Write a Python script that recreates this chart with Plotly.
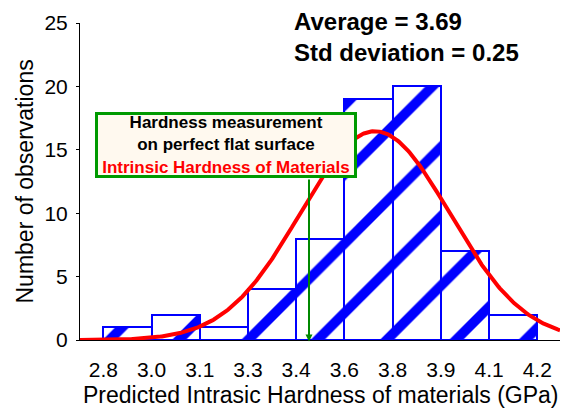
import numpy as np
import plotly.graph_objects as go

# ---------------- data ----------------
bin_edges = [2.800, 2.958, 3.116, 3.274, 3.432, 3.590, 3.748, 3.906, 4.064, 4.222]
counts = [1, 2, 1, 4, 8, 19, 20, 7, 2]
tick_labels = ["2.8", "3.0", "3.1", "3.3", "3.4", "3.6", "3.8", "3.9", "4.1", "4.2"]
y_ticks = [0, 5, 10, 15, 20, 25]
mean_val = 3.69
std_val = 0.25
fit_sigma = 0.245
measure_x = 3.474          # hardness measured on perfect flat surface
stats_lines = ["Average = 3.69", "Std deviation = 0.25"]
box_lines = ["Hardness measurement", "on perfect flat surface", "Intrinsic Hardness of Materials"]
x_title = "Predicted Intrasic Hardness of materials (GPa)"
y_title = "Number of observations"
x_range = [2.7236, 4.2965]
y_range = [0, 25]

# ---------------- derived ----------------
centers = [(a + b) / 2 for a, b in zip(bin_edges[:-1], bin_edges[1:])]
widths = [b - a for a, b in zip(bin_edges[:-1], bin_edges[1:])]
bw = float(np.mean(widths))
amp = sum(counts) * bw / (fit_sigma * np.sqrt(2 * np.pi))
xc = np.linspace(x_range[0], x_range[1], 400)
yc = amp * np.exp(-0.5 * ((xc - mean_val) / fit_sigma) ** 2)

FONT = "Arial, 'Liberation Sans', Helvetica, sans-serif"

fig = go.Figure()
fig.add_trace(go.Bar(
    x=centers, y=counts, width=widths,
    marker=dict(color="white",
                line=dict(color="#0000FF", width=2),
                pattern=dict(shape="/", fgcolor="#0000FF", bgcolor="white",
                             size=49, solidity=0.2, fillmode="replace")),
    showlegend=False, hoverinfo="skip"))
fig.add_trace(go.Scatter(
    x=xc, y=yc, mode="lines", line=dict(color="#FF0000", width=4),
    showlegend=False, hoverinfo="skip", cliponaxis=False))

W, H = 563, 410
ml, mr, mt, mb = 80, 3, 23, 70
pw, ph = W - ml - mr, H - mt - mb

def px2paper(px, py):
    return (px - ml) / pw, (H - mb - py) / ph

annotations = []
# stats text
for line, py in zip(stats_lines, [21, 52]):
    ax_, ay_ = px2paper(292, py)
    annotations.append(dict(text=line, xref="paper", yref="paper", x=ax_, y=ay_,
                            xanchor="left", yanchor="middle", showarrow=False,
                            font=dict(family=FONT, size=24, color="black", weight="bold")))
# box
bx, by = px2paper(226, 145)
box_text = (f"<b>{box_lines[0]}</b><br><b>{box_lines[1]}</b><br>"
            f"<b><span style='color:#FF0000'>{box_lines[2]}</span></b>")
annotations.append(dict(text=box_text, xref="paper", yref="paper", x=bx, y=by,
                        xanchor="center", yanchor="middle", showarrow=False,
                        font=dict(family=FONT, size=17, color="black"),
                        bgcolor="#FFF9EF", bordercolor="#009A00", borderwidth=3,
                        borderpad=0, width=256, height=60, align="center"))
# green arrow
box_bottom_y = (H - mb - 178) / ph * (y_range[1] - y_range[0])
annotations.append(dict(text="", x=measure_x, y=-0.12, xref="x", yref="y",
                        ax=measure_x, ay=box_bottom_y, axref="x", ayref="y",
                        showarrow=True, arrowhead=2, arrowsize=0.7, arrowwidth=2,
                        arrowcolor="#008800"))
# axis titles
tx, ty = px2paper(321, 395)
annotations.append(dict(text=x_title, xref="paper", yref="paper", x=tx, y=ty,
                        xanchor="center", yanchor="middle", showarrow=False,
                        font=dict(family=FONT, size=23, color="black")))
tx, ty = px2paper(24, 181.5)
annotations.append(dict(text=y_title, xref="paper", yref="paper", x=tx, y=ty,
                        xanchor="center", yanchor="middle", showarrow=False, textangle=-90,
                        font=dict(family=FONT, size=23, color="black")))

fig.update_layout(
    width=W, height=H, margin=dict(l=ml, r=mr, t=mt, b=mb),
    paper_bgcolor="white", plot_bgcolor="white",
    font=dict(family=FONT, color="black"),
    bargap=0,
    xaxis=dict(range=x_range, showline=True, linecolor="black", linewidth=1,
               ticks="outside", ticklen=11, tickcolor="rgba(0,0,0,0)",
               tickvals=bin_edges, ticktext=tick_labels,
               tickfont=dict(size=21, family=FONT, color="black"),
               showgrid=False, zeroline=False),
    yaxis=dict(range=y_range, showline=True, linecolor="black", linewidth=1,
               ticks="outside", ticklen=3, tickcolor="black", tickvals=y_ticks,
               tickfont=dict(size=21, family=FONT, color="black"),
               showgrid=False, zeroline=False, ticklabelstandoff=4),
    annotations=annotations,
)

fig.write_html("out.html", config={"displayModeBar": False},
               post_script="document.body.style.margin='0';document.body.style.padding='0';")
